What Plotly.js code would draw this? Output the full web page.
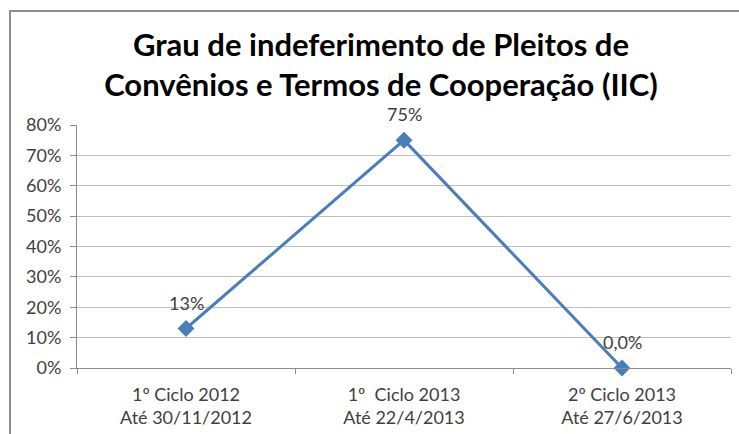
<!DOCTYPE html>
<html>
<head>
<meta charset="utf-8">
<script src="https://cdn.plot.ly/plotly-3.0.1.min.js"></script>
<style>
  html, body { margin: 0; padding: 0; background: #fff; }
  #wrap { position: relative; width: 739px; height: 434px; overflow: hidden; }
  #chart { position: absolute; left: 0; top: 0; width: 739px; height: 434px; }
  #frame { position: absolute; left: 9px; top: 10px; width: 800px; height: 500px;
           border-left: 2px solid #8c8c8c; border-top: 2px solid #8c8c8c; pointer-events: none; }
</style>
</head>
<body>
<div id="wrap">
  <div id="chart"></div>
  <div id="frame"></div>
</div>
<script>
const categories = [
  "1º Ciclo 2012<br>Até 30/11/2012",
  "1º\u00a0 Ciclo 2013<br>Até 22/4/2013",
  "2º Ciclo 2013<br>Até 27/6/2013"
];
const values = [0.13, 0.75, 0.0];
const pointLabels = ["13%", "75%", "0,0%"];
const yTickVals = [0, 0.1, 0.2, 0.3, 0.4, 0.5, 0.6, 0.7, 0.8];
const yTickText = ["0%", "10%", "20%", "30%", "40%", "50%", "60%", "70%", "80%"];

const trace = {
  x: categories,
  y: values,
  type: "scatter",
  mode: "lines+markers",
  line: { color: "#4a7ebb", width: 3 },
  marker: { symbol: "diamond", size: 13, color: "#4a7ebb" },
  cliponaxis: false,
  hoverinfo: "none"
};

const labelAnnotations = values.map(function (v, i) {
  return {
    x: categories[i],
    y: v,
    xref: "x",
    yref: "y",
    text: pointLabels[i],
    showarrow: false,
    xanchor: "center",
    yanchor: "middle",
    yshift: 26,
    font: { family: "Lato, sans-serif", size: 18, color: "#404040" }
  };
});

const layout = {
  width: 739,
  height: 434,
  margin: { l: 77, r: 8, t: 125, b: 66 },
  paper_bgcolor: "#ffffff",
  plot_bgcolor: "#ffffff",
  showlegend: false,
  font: { family: "Lato, sans-serif", color: "#404040", size: 18 },
  title: {
    text: "<b>Grau de indeferimento de Pleitos de<br>Convênios e Termos de Cooperação (IIC)</b>",
    font: { family: "Lato, sans-serif", size: 31, color: "#000000" },
    xref: "container", x: 381 / 739, xanchor: "center",
    yref: "container", y: 0.872, yanchor: "top"
  },
  annotations: labelAnnotations,
  xaxis: {
    type: "category",
    range: [-0.5, 2.5],
    showline: true,
    linecolor: "#8c8c8c",
    linewidth: 1,
    showgrid: false,
    ticks: "outside",
    tickson: "boundaries",
    ticklen: 5,
    ticklabelstandoff: 10,
    tickcolor: "#8c8c8c",
    tickfont: { family: "Lato, sans-serif", size: 18, color: "#404040" },
    zeroline: false,
    fixedrange: true
  },
  yaxis: {
    range: [0, 0.8],
    tickvals: yTickVals,
    ticktext: yTickText,
    showline: true,
    linecolor: "#8c8c8c",
    linewidth: 1,
    showgrid: true,
    gridcolor: "#bfbfbf",
    gridwidth: 1,
    ticks: "outside",
    ticklen: 6,
    ticklabelstandoff: 5,
    tickcolor: "#8c8c8c",
    tickfont: { family: "Lato, sans-serif", size: 18, color: "#404040" },
    zeroline: false,
    fixedrange: true
  }
};

Plotly.newPlot("chart", [trace], layout, { displayModeBar: false, staticPlot: true });
</script>
</body>
</html>
